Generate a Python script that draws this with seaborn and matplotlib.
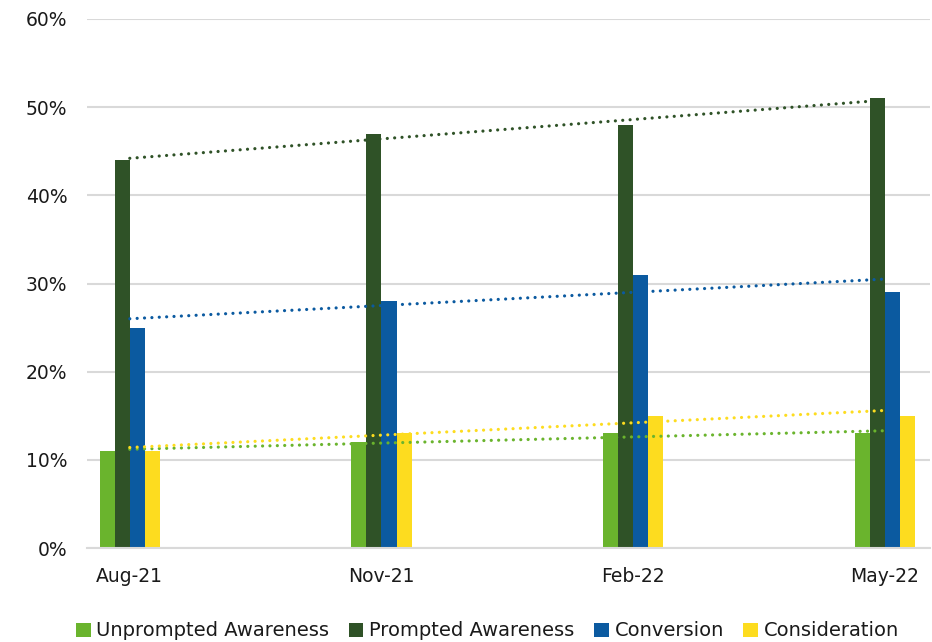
import numpy as np
import pandas as pd
import matplotlib
matplotlib.use("Agg")
import matplotlib.pyplot as plt
from matplotlib.ticker import FuncFormatter, MultipleLocator
from matplotlib.patches import Patch
import seaborn as sns

dates = ["Aug-21", "Nov-21", "Feb-22", "May-22"]
unprompted = [11, 12, 13, 13]
prompted = [44, 47, 48, 51]
conversion = [25, 28, 31, 29]
consideration = [11, 13, 15, 15]
series_names = ["Unprompted Awareness", "Prompted Awareness", "Conversion", "Consideration"]
colors = ["#6ab42d", "#2f5227", "#0b5aa0", "#fddc1f"]

series_vals = [unprompted, prompted, conversion, consideration]
df = pd.DataFrame({
    "date": np.repeat([dates], 4, axis=0).ravel(),
    "series": np.repeat(series_names, len(dates)),
    "value": np.concatenate(series_vals),
})

sns.set_theme(style="white")
plt.rcParams["font.family"] = ["DejaVu Sans"]

fig = plt.figure(figsize=(9.32, 6.42), dpi=100)
ax = fig.add_axes([87 / 932, 1 - 548 / 642, (930 - 87) / 932, (548 - 19) / 642])

sns.barplot(data=df, x="date", y="value", hue="series", order=dates,
            hue_order=series_names, palette=colors, width=0.24, dodge=True,
            saturation=1, errorbar=None, legend=False, ax=ax, zorder=2,
            linewidth=0)

xs = np.arange(len(dates))
for vals, c in zip(series_vals, colors):
    sns.regplot(x=xs, y=np.array(vals, dtype=float), scatter=False, ci=None,
                truncate=True, ax=ax,
                line_kws=dict(color=c, lw=2.3, linestyle=(0, (0.01, 2.3)),
                              dash_capstyle="round", zorder=3))

ax.set_xlim(-0.17, 3.18)
ax.set_ylim(0, 60)
ax.yaxis.set_major_locator(MultipleLocator(10))
ax.yaxis.set_major_formatter(FuncFormatter(lambda v, p: f"{v:.0f}%"))
ax.grid(axis="y", color="#d9d9d9", lw=1.5, zorder=0)
ax.set_axisbelow(True)
for s in ["top", "right", "left"]:
    ax.spines[s].set_visible(False)
ax.spines["bottom"].set_color("#d9d9d9")
ax.spines["bottom"].set_linewidth(1.5)
ax.set_xlabel("")
ax.set_ylabel("")
ax.tick_params(axis="both", length=0, labelsize=13.5, colors="#1a1a1a")
ax.tick_params(axis="x", pad=14)
ax.tick_params(axis="y", pad=14)

handles = [Patch(facecolor=c, edgecolor="none") for c in colors]
fig.legend(handles, series_names, loc="center", bbox_to_anchor=(0.523, 1 - 631 / 642),
           ncol=4, frameon=False, fontsize=14, handlelength=0.75, handleheight=0.75,
           handletextpad=0.3, columnspacing=1.0, labelcolor="#1a1a1a")

fig.savefig("out.png", dpi=100)
